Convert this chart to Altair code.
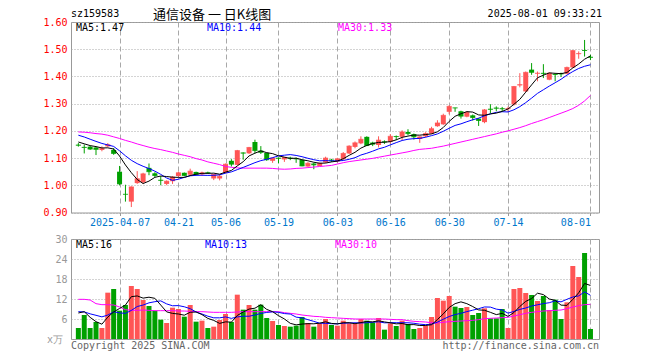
import altair as alt
import pandas as pd

# ---------------- data ----------------
trade_dates = [
    "03-26", "03-27", "03-28", "03-31", "04-01", "04-02", "04-03", "04-07", "04-08", "04-09",
    "04-10", "04-11", "04-14", "04-15", "04-16", "04-17", "04-18", "04-21", "04-22", "04-23",
    "04-24", "04-25", "04-28", "04-29", "04-30", "05-06", "05-07", "05-08", "05-09", "05-12",
    "05-13", "05-14", "05-15", "05-16", "05-19", "05-20", "05-21", "05-22", "05-23", "05-26",
    "05-27", "05-28", "05-29", "05-30", "06-03", "06-04", "06-05", "06-06", "06-09", "06-10",
    "06-11", "06-12", "06-13", "06-16", "06-17", "06-18", "06-19", "06-20", "06-23", "06-24",
    "06-25", "06-26", "06-27", "06-30", "07-01", "07-02", "07-03", "07-04", "07-07", "07-08",
    "07-09", "07-10", "07-11", "07-14", "07-15", "07-16", "07-17", "07-18", "07-21", "07-22",
    "07-23", "07-24", "07-25", "07-28", "07-29", "07-30", "07-31", "08-01",
]
tick_dates = ["04-07", "04-21", "05-06", "05-19", "06-03", "06-16", "06-30", "07-14", "08-01"]
tick_labels = ["2025-04-07", "04-21", "05-06", "05-19", "06-03", "06-16", "06-30", "07-14", "08-01"]

opens = [
    1.149, 1.141, 1.142, 1.139, 1.130, 1.143, 1.130, 1.050, 0.968, 0.940,
    1.008, 1.011, 1.064, 1.044, 1.020, 1.005, 1.015, 1.034, 1.046, 1.039,
    1.049, 1.040, 1.047, 1.025, 1.025, 1.046, 1.090, 1.075, 1.120, 1.1175,
    1.159, 1.1275, 1.119, 1.090, 1.101, 1.095, 1.101, 1.099, 1.094, 1.069,
    1.080, 1.071, 1.084, 1.094, 1.087, 1.096, 1.117, 1.141, 1.154, 1.178,
    1.157, 1.148, 1.161, 1.160, 1.181, 1.178, 1.196, 1.188, 1.170, 1.180,
    1.190, 1.217, 1.224, 1.270, 1.285, 1.272, 1.252, 1.257, 1.245, 1.232,
    1.281, 1.285, 1.283, 1.280, 1.297, 1.367, 1.345, 1.425, 1.410, 1.413,
    1.388, 1.409, 1.411, 1.410, 1.433, 1.482, 1.497, 1.472,
]
highs = [
    1.155, 1.150, 1.145, 1.140, 1.143, 1.155, 1.137, 1.071, 1.002, 0.996,
    1.052, 1.046, 1.080, 1.048, 1.034, 1.018, 1.034, 1.050, 1.047, 1.061,
    1.050, 1.050, 1.050, 1.042, 1.040, 1.080, 1.096, 1.130, 1.121, 1.141,
    1.1675, 1.144, 1.120, 1.102, 1.1025, 1.104, 1.105, 1.102, 1.095, 1.085,
    1.0825, 1.083, 1.105, 1.097, 1.101, 1.122, 1.147, 1.161, 1.180, 1.180,
    1.160, 1.180, 1.165, 1.188, 1.183, 1.202, 1.206, 1.190, 1.180, 1.195,
    1.215, 1.239, 1.263, 1.294, 1.285, 1.274, 1.272, 1.260, 1.247, 1.280,
    1.298, 1.290, 1.288, 1.289, 1.365, 1.412, 1.418, 1.449, 1.418, 1.445,
    1.414, 1.412, 1.414, 1.436, 1.497, 1.492, 1.534, 1.480,
]
lows = [
    1.142, 1.117, 1.130, 1.111, 1.125, 1.140, 1.112, 1.000, 0.940, 0.920,
    1.005, 1.006, 1.037, 1.030, 1.000, 1.000, 1.005, 1.030, 1.033, 1.034,
    1.036, 1.035, 1.042, 1.019, 1.018, 1.044, 1.069, 1.073, 1.094, 1.115,
    1.1175, 1.115, 1.090, 1.0825, 1.081, 1.086, 1.0925, 1.0825, 1.070, 1.068,
    1.059, 1.070, 1.082, 1.086, 1.084, 1.093, 1.115, 1.136, 1.151, 1.144,
    1.144, 1.139, 1.152, 1.154, 1.166, 1.166, 1.184, 1.168, 1.156, 1.176,
    1.188, 1.215, 1.222, 1.261, 1.270, 1.245, 1.250, 1.238, 1.218, 1.228,
    1.265, 1.272, 1.270, 1.269, 1.293, 1.360, 1.343, 1.406, 1.382, 1.394,
    1.386, 1.382, 1.398, 1.408, 1.431, 1.465, 1.473, 1.460,
]
closes = [
    1.147, 1.139, 1.133, 1.132, 1.135, 1.149, 1.117, 1.005, 0.967, 0.994,
    1.024, 1.042, 1.050, 1.036, 1.018, 1.015, 1.030, 1.046, 1.036, 1.052,
    1.040, 1.046, 1.045, 1.040, 1.033, 1.0775, 1.0775, 1.1275, 1.118, 1.139,
    1.1275, 1.121, 1.094, 1.100, 1.099, 1.1025, 1.099, 1.097, 1.071, 1.081,
    1.075, 1.081, 1.100, 1.092, 1.097, 1.117, 1.144, 1.156, 1.169, 1.146,
    1.151, 1.166, 1.159, 1.180, 1.179, 1.196, 1.190, 1.178, 1.178, 1.190,
    1.208, 1.229, 1.257, 1.290, 1.284, 1.254, 1.268, 1.249, 1.238, 1.277,
    1.279, 1.283, 1.281, 1.282, 1.363, 1.370, 1.415, 1.415, 1.412, 1.411,
    1.412, 1.407, 1.409, 1.433, 1.495, 1.484, 1.495, 1.470,
]
volumes = [
    3.3, 7.2, 3.3, 5.1, 3.3, 13.9, 15.0, 8.5, 10.2, 15.9,
    15.0, 11.7, 9.9, 8.5, 5.8, 4.8, 9.4, 9.0, 6.7, 10.2,
    5.2, 5.5, 3.3, 3.7, 5.7, 7.5, 5.1, 13.3, 8.8, 10.2,
    8.8, 10.3, 6.3, 5.4, 4.2, 3.9, 3.7, 4.0, 6.6, 4.8,
    3.7, 4.7, 6.0, 4.2, 4.0, 5.5, 4.7, 4.5, 6.0, 5.5,
    5.0, 6.3, 2.8, 4.7, 3.9, 5.5, 4.5, 3.0, 3.3, 4.0,
    6.6, 12.3, 11.5, 12.9, 9.7, 9.3, 9.6, 7.2, 7.8, 9.2,
    6.2, 6.2, 9.0, 3.3, 15.0, 15.3, 13.8, 13.2, 11.4, 12.9,
    8.7, 11.8, 6.0, 11.0, 21.9, 18.6, 25.8, 3.0,
]
# 30-day averages as drawn (their earlier inputs are off the chart)
price_ma30 = [
    1.196, 1.195, 1.193, 1.190, 1.188, 1.184, 1.178, 1.172, 1.165, 1.159,
    1.152, 1.146, 1.140, 1.135, 1.131, 1.126, 1.121, 1.115, 1.110, 1.105,
    1.098, 1.093, 1.086, 1.081, 1.076, 1.069, 1.066, 1.064, 1.063, 1.063,
    1.063, 1.063, 1.063, 1.062, 1.060, 1.059, 1.060, 1.062, 1.063, 1.065,
    1.067, 1.069, 1.071, 1.073, 1.078, 1.083, 1.087, 1.090, 1.093, 1.096,
    1.099, 1.103, 1.107, 1.111, 1.115, 1.119, 1.123, 1.128, 1.132, 1.134,
    1.136, 1.140, 1.144, 1.149, 1.154, 1.159, 1.164, 1.169, 1.174, 1.179,
    1.184, 1.189, 1.195, 1.200, 1.206, 1.212, 1.219, 1.227, 1.234, 1.241,
    1.249, 1.257, 1.265, 1.273, 1.282, 1.294, 1.310, 1.330,
]
vol_ma30 = [
    11.9, 11.9, 11.7, 10.6, 10.3, 10.3, 10.2, 9.6, 8.8, 8.6,
    8.6, 8.7, 8.6, 8.5, 8.5, 8.5, 8.5, 8.4, 8.4, 8.3,
    8.2, 8.2, 8.1, 8.0, 8.0, 8.0, 8.0, 8.1, 8.2, 8.2,
    8.2, 8.2, 8.2, 8.2, 8.2, 7.9, 7.7, 7.5, 7.2, 7.0,
    6.8, 6.7, 6.5, 6.4, 6.3, 6.2, 6.1, 6.0, 6.0, 6.0,
    6.0, 6.0, 6.0, 5.9, 5.8, 5.8, 5.5, 5.3, 5.2, 5.1,
    4.9, 4.8, 5.0, 5.2, 5.3, 5.4, 5.5, 5.6, 5.8, 6.1,
    6.2, 6.3, 6.4, 6.5, 6.9, 7.3, 7.7, 8.0, 8.2, 8.4,
    8.5, 8.6, 8.7, 9.1, 9.6, 10.0, 10.3, 10.4,
]
# estimated sessions just before the first candle (inferred from where MA5/MA10 start)
prior_closes = [1.204, 1.215, 1.212, 1.210, 1.204, 1.172, 1.166, 1.150, 1.160]
prior_volumes = [8.0, 9.0, 9.5, 8.0, 8.5, 5.2, 11.8, 11.6, 7.1]

price_ticks = [0.9, 1.0, 1.1, 1.2, 1.3, 1.4, 1.5, 1.6]
vol_ticks = [0, 6, 12, 18, 24, 30]

code_text = "sz159583"
title_text = "通信设备 一 日K线图"
time_text = "2025-08-01 09:33:21"
price_legend = ["MA5:1.47", "MA10:1.44", "MA30:1.33"]
vol_legend = ["MA5:16", "MA10:13", "MA30:10"]
unit_text = "x万"
copy_text = "Copyright 2025 SINA.COM"
url_text = "http://finance.sina.com.cn"

# ---------------- tables ----------------
n = len(closes)
df = pd.DataFrame({
    "idx": list(range(n)), "open": opens, "high": highs, "low": lows,
    "close": closes, "vol": volumes, "ma30": price_ma30, "vma30": vol_ma30,
})
df["dir"] = ["up" if c >= o else "down" for o, c in zip(opens, closes)]
ma_src = pd.DataFrame({
    "idx": list(range(-len(prior_closes), n)),
    "close": prior_closes + closes,
    "vol": prior_volumes + volumes,
})

tick_idx = [trade_dates.index(d) for d in tick_dates]
label_expr = "''"
for i, lab in reversed(list(zip(tick_idx, tick_labels))):
    label_expr = f"datum.value == {i} ? '{lab}' : ({label_expr})"

# ---------------- styling ----------------
MONO = "DejaVu Sans Mono"
UP, DOWN = "#FF5555", "#00A000"
GRID = "#A8A8A8"
W, H1, H2 = 528, 190.5, 100

xs = alt.Scale(domain=[-0.4, n - 0.4], nice=False, zero=False)
ys = alt.Scale(domain=[0.9, 1.6], nice=False, zero=False)
vs = alt.Scale(domain=[0, 30], nice=False)
color = alt.Color("dir:N", scale=alt.Scale(domain=["up", "down"], range=[UP, DOWN]), legend=None)

x_axis_top = alt.Axis(values=tick_idx, labelExpr=label_expr, labelFlush=10, labelOverlap=False,
                      grid=True, gridColor=GRID, gridDash=[5, 3], domain=False,
                      ticks=True, tickColor="#999999", tickSize=3,
                      labelColor="#0077CC", labelFont=MONO, labelFontSize=10, labelPadding=2,
                      title=None, minExtent=18, maxExtent=18)
x_axis_bot = alt.Axis(values=tick_idx, labels=False, ticks=False, domain=False,
                      grid=True, gridColor=GRID, gridDash=[5, 3], title=None,
                      minExtent=0, maxExtent=0)
y_axis_price = alt.Axis(values=price_ticks, labelExpr="format(datum.value, '.2f')",
                        labelOverlap=False, labelSeparation=0,
                        grid=True, gridColor=GRID, gridDash=[1, 2],
                        domain=False, ticks=False, labelColor="#FF0000", labelFont=MONO,
                        labelFontSize=10, labelPadding=4, title=None, minExtent=32, maxExtent=32)
y_axis_vol = alt.Axis(values=vol_ticks, labelExpr="datum.value == 0 ? '' : datum.label",
                      labelOverlap=False, labelSeparation=0,
                      grid=True, gridColor=GRID, gridDash=[1, 2], domain=False, ticks=False,
                      labelColor="#999999", labelFont=MONO, labelFontSize=10, labelPadding=4,
                      title=None, minExtent=32, maxExtent=32)


def label(txt, x, y, col, size=10, font=MONO, align="left"):
    return alt.Chart(pd.DataFrame({"t": [txt]})).mark_text(
        align=align, baseline="middle", font=font, fontSize=size, color=col
    ).encode(x=alt.value(x), y=alt.value(y), text="t:N")


# ---------------- price panel ----------------
base = alt.Chart(df).encode(x=alt.X("idx:Q", scale=xs, axis=x_axis_top))
wick = base.mark_rule(strokeWidth=1).encode(
    y=alt.Y("low:Q", scale=ys, axis=y_axis_price), y2="high:Q", color=color)
body = base.mark_bar(size=5).encode(y=alt.Y("open:Q", axis=y_axis_price), y2="close:Q", color=color)
doji = base.mark_tick(orient="horizontal", size=5, thickness=1).encode(
    y=alt.Y("close:Q", axis=y_axis_price), color=color)

ma = (alt.Chart(ma_src)
      .transform_window(ma5="mean(close)", frame=[-4, 0], sort=[alt.SortField("idx")])
      .transform_window(ma10="mean(close)", frame=[-9, 0], sort=[alt.SortField("idx")])
      .transform_window(v5="mean(vol)", frame=[-4, 0], sort=[alt.SortField("idx")])
      .transform_window(v10="mean(vol)", frame=[-9, 0], sort=[alt.SortField("idx")])
      .transform_filter("datum.idx >= 0"))

p_ma30 = alt.Chart(df).mark_line(color="#FF00FF", strokeWidth=1).encode(
    x=alt.X("idx:Q", axis=x_axis_top), y=alt.Y("ma30:Q", axis=y_axis_price))
p_ma10 = ma.mark_line(color="#0000FF", strokeWidth=1).encode(
    x=alt.X("idx:Q", axis=x_axis_top), y=alt.Y("ma10:Q", axis=y_axis_price))
p_ma5 = ma.mark_line(color="#000000", strokeWidth=1).encode(
    x=alt.X("idx:Q", axis=x_axis_top), y=alt.Y("ma5:Q", axis=y_axis_price))

top = alt.layer(
    wick, body, doji, p_ma30, p_ma10, p_ma5,
    label(price_legend[0], 5, 6, "#000000"),
    label(price_legend[1], 136, 6, "#0000FF"),
    label(price_legend[2], 267, 6, "#FF00FF"),
    label(code_text, 0, -8, "#000000"),
    label(title_text, 82, -7, "#000000", size=13, font="Noto Sans CJK SC"),
    label(time_text, W + 3, -8, "#000000", align="right"),
).properties(width=W, height=H1)

# ---------------- volume panel ----------------
vbase = alt.Chart(df).encode(x=alt.X("idx:Q", scale=xs, axis=x_axis_bot))
vbar = vbase.mark_bar(size=5).encode(y=alt.Y("vol:Q", scale=vs, axis=y_axis_vol), color=color)
v_ma30 = alt.Chart(df).mark_line(color="#FF00FF", strokeWidth=1).encode(
    x=alt.X("idx:Q", axis=x_axis_bot), y=alt.Y("vma30:Q", axis=y_axis_vol))
v_ma10 = ma.mark_line(color="#0000FF", strokeWidth=1).encode(
    x=alt.X("idx:Q", axis=x_axis_bot), y=alt.Y("v10:Q", axis=y_axis_vol))
v_ma5 = ma.mark_line(color="#000000", strokeWidth=1).encode(
    x=alt.X("idx:Q", axis=x_axis_bot), y=alt.Y("v5:Q", axis=y_axis_vol))

bottom = alt.layer(
    vbar, v_ma30, v_ma10, v_ma5,
    label(vol_legend[0], 5, 6, "#000000"),
    label(vol_legend[1], 134, 6, "#0000FF"),
    label(vol_legend[2], 264, 6, "#FF00FF"),
    label(unit_text, -8, H2 + 1, "#999999", align="right"),
    label(copy_text, 0, H2 + 7, "#666666"),
    label(url_text, W, H2 + 7, "#666666", align="right"),
).properties(width=W, height=H2)

chart = (
    alt.vconcat(top, bottom, spacing=2)
    .properties(padding={"left": 30, "top": 0, "right": 2, "bottom": 0})
    .configure(background="white")
    .configure_view(stroke="#999999", strokeWidth=1)
    .configure_axisY(labelOverlap=False)
)

chart.save("out.html", embed_options={"renderer": "svg", "actions": False})
